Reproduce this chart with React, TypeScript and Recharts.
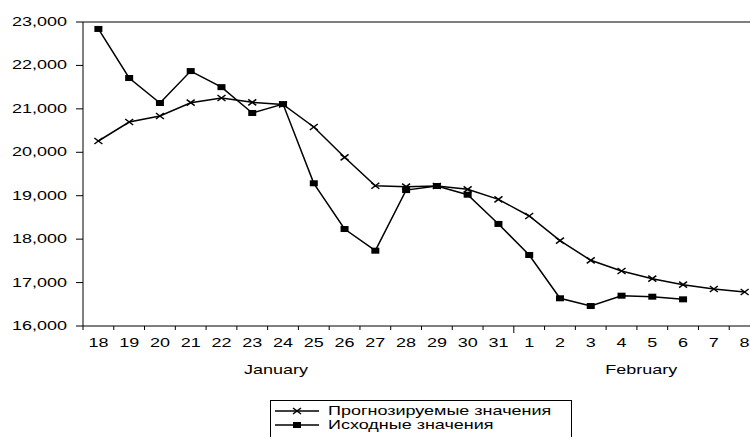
import { CartesianGrid, Legend, Line, LineChart, ReferenceLine, XAxis, YAxis } from "recharts"

// categories: days, 18 Jan .. 8 Feb
const days = ["18", "19", "20", "21", "22", "23", "24", "25", "26", "27", "28", "29", "30", "31", "1", "2", "3", "4", "5", "6", "7", "8"]

const forecast = [20260, 20697, 20835, 21142, 21250, 21150, 21100, 20582, 19884, 19230, 19208, 19224, 19148, 18917, 18533, 17964, 17513, 17266, 17089, 16951, 16852, 16783]

const actual = [22840, 21710, 21135, 21870, 21500, 20905, 21110, 19286, 18233, 17734, 19130, 19224, 19023, 18350, 17635, 16638, 16460, 16698, 16675, 16614, null, null]

const yTicks = [16000, 17000, 18000, 19000, 20000, 21000, 22000, 23000]

const months = [
  { label: "January", at: "24", dx: -7 },
  { label: "February", at: "5", dx: -11 },
]
const monthStart = "1"

const forecastName = "Прогнозируемые значения"
const actualName = "Исходные значения"

const data = days.map((day, i) => ({ day, forecast: forecast[i], actual: actual[i] }))

const FONT = "'Liberation Sans', Arial, sans-serif"
const STRETCH = 1.5
const HALF_BAND = 677 / days.length / 2

const fmt = (v: number) => v.toLocaleString("en-US")

const WideText = ({ x, y, anchor, children }: any) => (
  <text
    transform={`translate(${x},${y}) scale(${STRETCH},1)`}
    textAnchor={anchor}
    fontFamily={FONT}
    fontSize={12}
    fill="#000"
  >
    {children}
  </text>
)

const YTick = ({ x, y, payload }: any) => (
  <WideText x={x} y={y + 4} anchor="end">
    {fmt(payload.value)}
  </WideText>
)

const XTick = ({ x, y, payload, index }: any) => {
  const month = months.find((m) => m.at === payload.value)
  const isMonthStart = payload.value === monthStart
  return (
    <g>
      <line x1={x - HALF_BAND} x2={x - HALF_BAND} y1={y} y2={y + (isMonthStart ? 7 : 4)} stroke="#000" />
      {index === days.length - 1 && (
        <line x1={x + HALF_BAND} x2={x + HALF_BAND} y1={y} y2={y + 4} stroke="#000" />
      )}
      <WideText x={x} y={y + 21} anchor="middle">
        {payload.value}
      </WideText>
      {month && (
        <WideText x={x + month.dx} y={y + 48} anchor="middle">
          {month.label}
        </WideText>
      )}
    </g>
  )
}

const SquareDot = ({ cx, cy }: any) => {
  if (cx == null || cy == null) return <g />
  return <rect x={cx - 4} y={cy - 3} width={8} height={6} fill="#000" />
}

const CrossDot = ({ cx, cy }: any) => {
  if (cx == null || cy == null) return <g />
  return (
    <g stroke="#000" strokeWidth={1.5}>
      <line x1={cx - 4} y1={cy - 3} x2={cx + 4} y2={cy + 3} />
      <line x1={cx - 4} y1={cy + 3} x2={cx + 4} y2={cy - 3} />
    </g>
  )
}

const LegendBox = () => {
  const rows = [
    { name: forecastName, Dot: CrossDot },
    { name: actualName, Dot: SquareDot },
  ]
  return (
    <div style={{ border: "1px solid #000", width: 300, height: 60, background: "#fff" }}>
      <svg width={300} height={60}>
        {rows.map((r, i) => {
          const y = 10 + i * 14
          return (
            <g key={r.name}>
              <line x1={4} x2={48} y1={y} y2={y} stroke="#000" strokeWidth={1.5} />
              <r.Dot cx={26} cy={y} />
              <WideText x={57} y={y + 4} anchor="start">
                {r.name}
              </WideText>
            </g>
          )
        })}
      </svg>
    </div>
  )
}

export default function App() {
  return (
    <div
      style={{
        position: "absolute",
        left: 0,
        top: 0,
        width: 750,
        height: 437,
        overflow: "hidden",
        background: "#fff",
      }}
    >
      <LineChart width={780} height={437} data={data} margin={{ top: 22, right: 20, left: 0, bottom: 0 }}>
        <CartesianGrid horizontal={false} vertical={false} />
        <XAxis
          dataKey="day"
          height={111}
          padding={{ left: HALF_BAND, right: HALF_BAND }}
          axisLine={{ stroke: "#000" }}
          tickLine={false}
          tickSize={0}
          tickMargin={0}
          interval={0}
          tick={<XTick />}
        />
        <YAxis
          width={83}
          domain={[16000, 23000]}
          ticks={yTicks}
          interval={0}
          axisLine={{ stroke: "#000" }}
          tickLine={{ stroke: "#000" }}
          tickSize={7}
          tickMargin={9}
          tick={<YTick />}
        />
        <ReferenceLine y={23000} stroke="#000" />
        <Legend
          layout="horizontal"
          verticalAlign="middle"
          align="center"
          wrapperStyle={{ left: 270, top: 400, width: 302, height: 62 }}
          content={<LegendBox />}
        />
        <Line
          dataKey="forecast"
          name={forecastName}
          type="linear"
          stroke="#000"
          strokeWidth={1.5}
          dot={<CrossDot />}
          activeDot={false}
          isAnimationActive={false}
        />
        <Line
          dataKey="actual"
          name={actualName}
          type="linear"
          stroke="#000"
          strokeWidth={1.5}
          dot={<SquareDot />}
          activeDot={false}
          isAnimationActive={false}
        />
      </LineChart>
    </div>
  )
}
